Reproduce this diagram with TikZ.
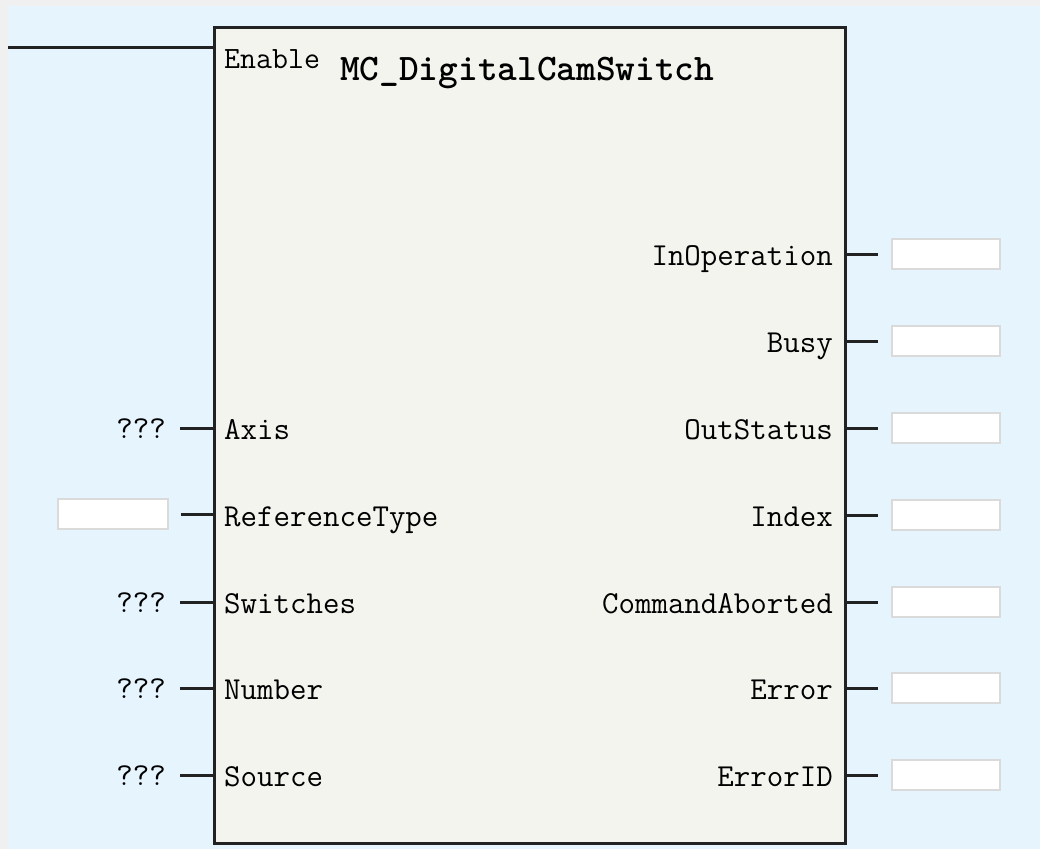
\documentclass[tikz,border=0pt]{standalone}
\usetikzlibrary{positioning}
\definecolor{panel}{RGB}{230,244,254}
\definecolor{frame}{RGB}{240,240,240}
\definecolor{fbfill}{RGB}{244,244,239}
\definecolor{boxline}{RGB}{218,218,218}
\definecolor{wire}{RGB}{34,34,34}
\newcommand{\pinfont}{\fontsize{32}{38}\selectfont\ttfamily}
\newcommand{\titlefont}{\fontsize{37.5}{44}\selectfont\ttfamily\bfseries}
\tikzset{
  pin label/.style={font=\pinfont, inner sep=0pt},
  unknown/.style={pin label, text height=20pt, text depth=0pt, anchor=east},
  value box/.style={draw=boxline, line width=2pt, fill=white,
                    minimum width=108pt, minimum height=30pt, inner sep=0pt},
  stub/.style={line width=3pt, draw=wire},
  fblock/.style={draw=wire, line width=3pt, fill=fbfill,
                 minimum width=631pt, minimum height=816pt, inner sep=0pt}
}
\begin{document}
\begin{tikzpicture}[x=1pt,y=-1pt]
  \fill[frame] (0,0) rectangle (1040,849);
  \fill[panel] (8,6) rectangle (1040,849);
  % function block
  \node[fblock] (fb) at (529.5,435) {};
  \node[pin label, font=\titlefont, anchor=base west] (title) at (340,80) {MC\_DigitalCamSwitch};
  \node[pin label, font=\fontsize{31}{37}\selectfont\ttfamily, anchor=base west] (en) at (224,68) {Enable};
  \coordinate (enwire) at (8,47);
  \draw[stub] (enwire) -- (fb.west |- enwire);
  % outputs
  \foreach \y/\name [count=\i] in {254/InOperation, 341/Busy, 428/OutStatus,
      515/Index, 602/CommandAborted, 688/Error, 775/ErrorID} {
    \node[pin label, anchor=base east] (out\i) at (833,\y+11) {\name};
    \node[value box] (outval\i) at (946,\y) {};
    \draw[stub, shorten >=13pt] (fb.east |- outval\i) -- (outval\i.west);
  }
  % inputs
  \foreach \y/\name [count=\i] in {428/Axis, 602/Switches, 688/Number, 775/Source} {
    \node[pin label, anchor=base west] (in\i) at (224,\y+11) {\name};
    \node[unknown] (inval\i) at (166,\y) {???};
    \draw[stub, shorten <=14pt] (inval\i.east) -- (fb.west |- inval\i.east);
  }
  \node[pin label, anchor=base west] (inref) at (224,526) {ReferenceType};
  \node[value box, minimum width=110pt] (refval) at (112.5,514) {};
  \draw[stub, shorten <=12pt] (refval.east) -- (fb.west |- refval.east);
\end{tikzpicture}
\end{document}
